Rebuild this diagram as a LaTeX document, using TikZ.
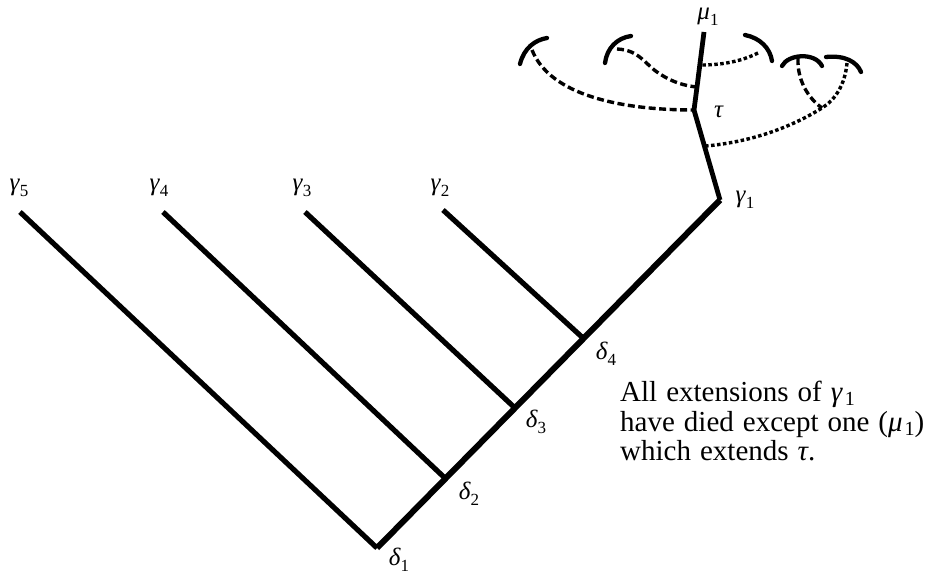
\documentclass[tikz,border=0pt]{standalone}
\usepackage{fontspec}
\setmainfont{Liberation Serif}
\newcommand{\gl}[2]{\textit{#1}\raisebox{-0.22em}{\fontsize{17}{17}\selectfont #2}}
\newcommand{\gt}[2]{\textit{#1}\hspace{2pt}\raisebox{-0.15em}{\fontsize{20}{20}\selectfont #2}}
\newcommand{\captionfont}{\fontsize{29}{29}\selectfont\spaceskip=9pt plus 2pt\relax}
\tikzset{
  trunkln/.style={line width=6pt, line join=miter},
  branchln/.style={line width=5.2pt},
  topln/.style={line width=4.8pt, line join=round},
  arcln/.style={line width=4.3pt, line cap=round},
  dashln/.style={line width=3.4pt, dash pattern=on 7pt off 3.5pt},
  dotln/.style={line width=3.4pt, dash pattern=on 3.5pt off 2.5pt},
  lbl/.style={font=\fontsize{25}{25}\selectfont, inner sep=0pt},
  txt/.style={font=\captionfont, inner sep=0pt, anchor=base west}
}
\begin{document}
\begin{tikzpicture}[x=1pt,y=-1pt]
\useasboundingbox (0,0) rectangle (928,577);
% points
\coordinate (d1) at (377,548);
\coordinate (d2) at (447,480);
\coordinate (d3) at (515,408);
\coordinate (d4) at (583,338);
\coordinate (g1) at (720,200);
\coordinate (tau) at (694,110);
\coordinate (k) at (697,87);
\coordinate (m1) at (704,32);
\coordinate (g5) at (20,212);
\coordinate (g4) at (163,212);
\coordinate (g3) at (305,212);
\coordinate (g2) at (443,210);
% tree
\draw[branchln] (g5) -- (d1);
\draw[branchln] (g4) -- (d2);
\draw[branchln] (g3) -- (d3);
\draw[branchln] (g2) -- (d4);
\draw[trunkln] (d1) -- (g1);
\draw[topln] (g1) -- (tau) -- (k) -- (m1);
% arcs
\draw[arcln] (520,64) .. controls (524,48) and (535,40) .. (547,38);
\draw[arcln] (605,63) .. controls (607,48) and (617,38) .. (631,36);
\draw[arcln] (745,35) .. controls (760,38) and (770,48) .. (772,61);
\draw[arcln] (782,66) .. controls (788,54) and (815,52) .. (822,66);
\draw[arcln] (826,57) .. controls (845,55) and (857,62) .. (861,72);
% dashed and dotted extensions
\coordinate (e5) at (706,146);
\coordinate (e3) at (701,65);
\coordinate (x) at (822,108);
\draw[dashln] (532,50) .. controls (550,95) and (620,110) .. (tau);
\draw[dashln] (617,49) .. controls (640,50) and (645,65) .. (660,74) .. controls (672,82) and (685,86) .. (k);
\draw[dotln] (758,53) .. controls (740,62) and (720,65) .. (e3);
\draw[dashln] (798,58) .. controls (797,80) and (808,98) .. (x);
\draw[dotln] (847,63) .. controls (845,85) and (835,100) .. (x) .. controls (790,128) and (750,142) .. (e5);
% labels
\node[lbl] (lg5) at (19,188) {\gl{γ}{5}};
\node[lbl] (lg4) at (159,188) {\gl{γ}{4}};
\node[lbl] (lg3) at (302,188) {\gl{γ}{3}};
\node[lbl] (lg2) at (440,188) {\gl{γ}{2}};
\node[lbl] (lg1) at (745,200) {\gl{γ}{1}};
\node[lbl] (lm1) at (708,17) {\gl{μ}{1}};
\node[lbl] (ltau) at (719,112) {\textit{τ}};
\node[lbl] (ld1) at (399,560) {\gl{δ}{1}};
\node[lbl] (ld2) at (469,494) {\gl{δ}{2}};
\node[lbl] (ld3) at (536,422) {\gl{δ}{3}};
\node[lbl] (ld4) at (606,354) {\gl{δ}{4}};
% caption
\node[txt] (t1) at (620,401) {All extensions of \gt{γ}{1}};
\node[txt] (t2) at (620,431) {have died except one (\gt{μ}{1})};
\node[txt] (t3) at (620,460) {which extends \textit{τ}.};
\end{tikzpicture}
\end{document}
